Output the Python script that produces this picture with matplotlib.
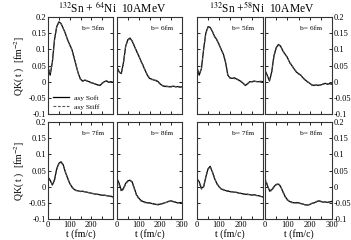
import matplotlib
matplotlib.use("Agg")
import matplotlib.pyplot as plt
from matplotlib.ticker import MultipleLocator

plt.rcParams['font.family'] = ['Liberation Serif', 'DejaVu Serif']
plt.rcParams['mathtext.fontset'] = 'stix'

t = [0, 10, 20, 30, 40, 50, 60, 70, 80, 90, 100, 110, 120, 130, 140, 150,
     160, 170, 180, 190, 200, 210, 220, 230, 240, 250, 260, 270, 280, 290, 300]

titles = ["$^{132}$Sn + $^{64}$Ni  10AMeV", "$^{132}$Sn +$^{58}$Ni  10AMeV"]
b_labels = ["b= 5fm", "b= 6fm", "b= 7fm", "b= 8fm"]
legend_labels = ["asy Soft", "asy Stiff"]

# Ni64
ni64_b5_soft = [0.045, 0.02, 0.06, 0.13, 0.17, 0.185, 0.18, 0.165, 0.15, 0.13, 0.115, 0.10, 0.075, 0.05, 0.025, 0.008,
                0.002, 0.005, 0.002, 0.0, -0.003, -0.005, -0.008, -0.01, -0.012, -0.005, 0.0, 0.002, -0.002, 0.0, -0.002]
ni64_b5_stiff = [0.05, 0.025, 0.058, 0.128, 0.168, 0.183, 0.179, 0.166, 0.148, 0.131, 0.113, 0.099, 0.077, 0.049, 0.024, 0.006,
                 0.0, 0.006, 0.003, -0.002, -0.004, -0.006, -0.007, -0.012, -0.01, -0.004, -0.002, 0.004, 0.0, -0.003, 0.0]
ni64_b6_soft = [0.045, 0.03, 0.025, 0.06, 0.11, 0.13, 0.135, 0.125, 0.11, 0.095, 0.08, 0.065, 0.05, 0.035, 0.02, 0.01,
                0.008, 0.005, 0.004, 0.0, -0.008, -0.012, -0.015, -0.014, -0.016, -0.015, -0.014, -0.016, -0.015, -0.017, -0.016]
ni64_b6_stiff = [0.04, 0.028, 0.027, 0.058, 0.108, 0.128, 0.133, 0.127, 0.112, 0.093, 0.082, 0.063, 0.052, 0.033, 0.022, 0.012,
                 0.006, 0.007, 0.002, -0.002, -0.006, -0.013, -0.013, -0.016, -0.014, -0.017, -0.013, -0.015, -0.017, -0.015, -0.018]
ni64_b7_soft = [0.03, 0.02, 0.005, 0.02, 0.055, 0.072, 0.077, 0.068, 0.045, 0.028, 0.01, 0.0, -0.008, -0.012, -0.013, -0.015,
                -0.014, -0.016, -0.017, -0.019, -0.02, -0.022, -0.023, -0.024, -0.025, -0.027, -0.026, -0.028, -0.029, -0.03, -0.032]
ni64_b7_stiff = [0.025, 0.018, 0.008, 0.022, 0.052, 0.07, 0.075, 0.066, 0.047, 0.026, 0.012, -0.002, -0.009, -0.011, -0.015, -0.014,
                 -0.016, -0.015, -0.018, -0.018, -0.021, -0.021, -0.024, -0.023, -0.026, -0.026, -0.027, -0.027, -0.03, -0.029, -0.031]
ni64_b8_soft = [0.025, 0.01, -0.012, -0.005, 0.01, 0.018, 0.02, 0.015, -0.005, -0.025, -0.035, -0.042, -0.046, -0.048, -0.05, -0.05,
                -0.052, -0.053, -0.055, -0.055, -0.054, -0.052, -0.05, -0.048, -0.045, -0.044, -0.046, -0.048, -0.05, -0.049, -0.05]
ni64_b8_stiff = [0.02, 0.005, -0.015, -0.008, 0.008, 0.016, 0.019, 0.013, -0.008, -0.027, -0.037, -0.044, -0.047, -0.05, -0.049, -0.052,
                 -0.051, -0.055, -0.054, -0.057, -0.053, -0.053, -0.049, -0.049, -0.046, -0.045, -0.047, -0.047, -0.051, -0.048, -0.049]
# Ni58
ni58_b5_soft = [0.045, 0.02, 0.04, 0.10, 0.15, 0.17, 0.168, 0.155, 0.14, 0.13, 0.115, 0.10, 0.085, 0.06, 0.02, 0.012,
                0.01, 0.012, 0.008, 0.005, 0.0, -0.005, -0.012, -0.006, 0.0, 0.0, 0.002, 0.0, 0.0, 0.001, 0.0]
ni58_b5_stiff = [0.035, 0.025, 0.038, 0.098, 0.148, 0.168, 0.166, 0.156, 0.138, 0.128, 0.117, 0.098, 0.083, 0.058, 0.022, 0.01,
                 0.012, 0.009, 0.01, 0.003, 0.002, -0.006, -0.01, -0.008, 0.001, -0.001, 0.0, 0.001, -0.001, 0.0, 0.001]
ni58_b6_soft = [0.035, 0.02, 0.002, 0.03, 0.08, 0.105, 0.115, 0.11, 0.095, 0.085, 0.075, 0.06, 0.05, 0.04, 0.03, 0.025,
                0.02, 0.012, 0.005, 0.0, -0.005, -0.01, -0.012, -0.01, -0.012, -0.01, -0.008, -0.005, -0.008, -0.006, -0.008]
ni58_b6_stiff = [0.03, 0.018, 0.005, 0.028, 0.078, 0.103, 0.113, 0.108, 0.097, 0.083, 0.077, 0.058, 0.052, 0.038, 0.032, 0.023,
                 0.022, 0.01, 0.007, -0.002, -0.003, -0.012, -0.01, -0.012, -0.01, -0.012, -0.006, -0.007, -0.006, -0.008, -0.006]
ni58_b7_soft = [0.025, 0.015, -0.005, 0.0, 0.03, 0.055, 0.063, 0.045, 0.025, 0.01, 0.0, -0.007, -0.01, -0.012, -0.014, -0.015,
                -0.016, -0.017, -0.018, -0.02, -0.021, -0.022, -0.024, -0.023, -0.025, -0.026, -0.025, -0.027, -0.028, -0.03, -0.032]
ni58_b7_stiff = [0.022, 0.012, -0.008, -0.002, 0.028, 0.053, 0.061, 0.047, 0.027, 0.008, 0.002, -0.009, -0.008, -0.014, -0.012, -0.017,
                 -0.015, -0.018, -0.017, -0.021, -0.02, -0.023, -0.023, -0.025, -0.024, -0.027, -0.024, -0.028, -0.027, -0.031, -0.03]
ni58_b8_soft = [0.02, 0.005, -0.012, -0.01, 0.0, 0.007, 0.008, 0.0, -0.015, -0.03, -0.04, -0.046, -0.048, -0.05, -0.049, -0.05,
                -0.052, -0.054, -0.056, -0.057, -0.055, -0.052, -0.05, -0.047, -0.044, -0.046, -0.048, -0.047, -0.049, -0.047, -0.046]
ni58_b8_stiff = [0.025, 0.008, -0.015, -0.012, -0.002, 0.005, 0.01, 0.002, -0.017, -0.032, -0.042, -0.045, -0.05, -0.049, -0.051, -0.049,
                 -0.053, -0.053, -0.057, -0.056, -0.056, -0.051, -0.051, -0.046, -0.042, -0.045, -0.049, -0.046, -0.048, -0.046, -0.044]

y_ticks = [-0.1, -0.05, 0, 0.05, 0.1, 0.15, 0.2]
y_ticklabels = ['-0.1', '-0.05', '0', '0.05', '0.1', '0.15', '0.2']
x_ticks = [0, 50, 100, 150, 200, 250, 300]

panels = [
    [(ni64_b5_soft, ni64_b5_stiff), (ni64_b6_soft, ni64_b6_stiff), (ni58_b5_soft, ni58_b5_stiff), (ni58_b6_soft, ni58_b6_stiff)],
    [(ni64_b7_soft, ni64_b7_stiff), (ni64_b8_soft, ni64_b8_stiff), (ni58_b7_soft, ni58_b7_stiff), (ni58_b8_soft, ni58_b8_stiff)],
]
panel_b = [[0, 1, 0, 1], [2, 3, 2, 3]]

W, H = 351, 240
fig = plt.figure(figsize=(W / 100, H / 100), dpi=100)

xs = [(48, 113), (117, 182), (197, 263), (265, 332)]
ys = [(17, 114), (122, 219)]

for r in range(2):
    for c in range(4):
        x0, x1 = xs[c]
        y0, y1 = ys[r]
        ax = fig.add_axes([x0 / W, 1 - y1 / H, (x1 - x0) / W, (y1 - y0) / H])
        soft, stiff = panels[r][c]
        l1, = ax.plot(t, soft, color='black', lw=0.9, ls='-')
        l2, = ax.plot(t, stiff, color='#555555', lw=0.8, ls=(0, (2.5, 1.5)))
        ax.set_xlim(0, 300)
        ax.set_ylim(-0.1, 0.2)
        ax.set_xticks(x_ticks)
        ax.set_yticks(y_ticks)
        ax.tick_params(direction='in', top=True, right=True, length=2.5, width=0.6,
                       labelsize=6.0, pad=1.2)
        for s in ax.spines.values():
            s.set_linewidth(0.8)
            s.set_color('#333333')
        ax.text(0.86, 0.88, b_labels[panel_b[r][c]], transform=ax.transAxes,
                ha='right', va='center', fontsize=5.4)
        if c == 0:
            ax.set_yticklabels(y_ticklabels)
            ax.set_ylabel("QK( t )  [fm$^{-2}$]", fontsize=7, labelpad=1)
        elif c == 3:
            ax.set_yticklabels(y_ticklabels)
            ax.tick_params(labelleft=False, labelright=True)
        else:
            ax.tick_params(labelleft=False)
        if r == 1:
            if c in (0, 2):
                ax.set_xticklabels(['0', '', '100', '', '200', '', ''])
            else:
                ax.set_xticklabels(['0', '', '100', '', '200', '', '300'])
            ax.set_xlabel("t (fm/c)", fontsize=7, labelpad=0)
        else:
            ax.tick_params(labelbottom=False)
        if r == 0 and c == 0:
            ax.legend([l1, l2], legend_labels, loc='lower left', fontsize=5.4,
                      frameon=False, handlelength=2.2, borderaxespad=0.2,
                      labelspacing=0.3, handletextpad=0.6)

fig.text(112 / W, 1 - 8 / H, titles[0], ha='center', va='center', fontsize=8.3)
fig.text(262 / W, 1 - 8 / H, titles[1], ha='center', va='center', fontsize=8.3)

fig.savefig("out.png", dpi=100)
